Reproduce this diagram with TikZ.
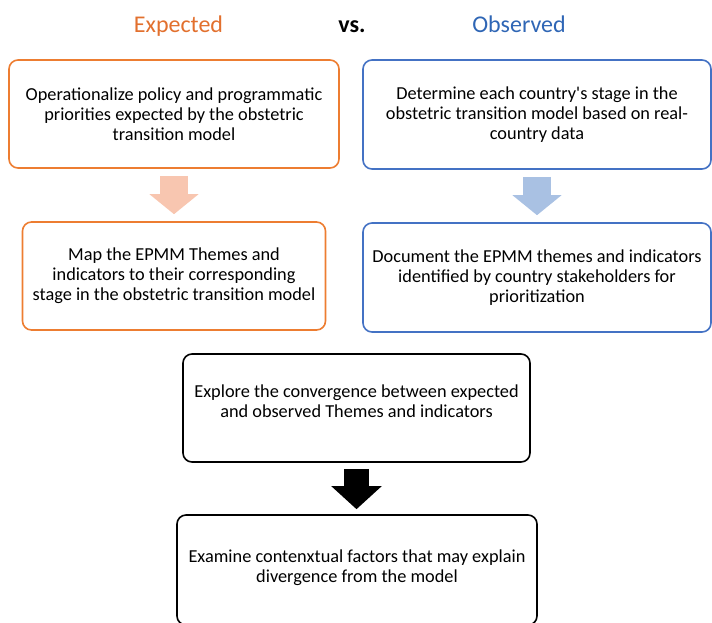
\documentclass[tikz,border=0pt]{standalone}
\usepackage{fontspec}
\setmainfont{Carlito}
\usetikzlibrary{arrows.meta}
\definecolor{expline}{HTML}{ED7D31}
\definecolor{exptext}{HTML}{E2702E}
\definecolor{expfill}{HTML}{F8C6B0}
\definecolor{obsline}{HTML}{4472C4}
\definecolor{obstext}{HTML}{2F66B5}
\definecolor{obsfill}{HTML}{A9C1E3}

\begin{document}
\begin{tikzpicture}[x=1pt, y=-1pt,
        head/.style={font=\fontsize{24}{28}\selectfont, anchor=base},
        box/.style={draw, line width=1.6pt, rounded corners=9pt, align=center,
            font=\fontsize{18.3}{20}\selectfont, inner sep=0pt},
        blockarrow/.style={line width=28pt, shorten <=7pt, shorten >=7pt}]
    \useasboundingbox (0,0) rectangle (712,622);
    \node[head, text=exptext] (hexp) at (178.5,32) {Expected};
    \node[head] (hvs) at (352,32) {\textbf{vs.}};
    \node[head, text=obstext] (hobs) at (519,32) {Observed};
    \node[box, draw=expline, minimum width=330pt, minimum height=108pt] (exp1) at (174,114)
        {Operationalize policy and programmatic\\priorities expected by the obstetric\\transition model};
    \node[box, draw=expline, minimum width=303pt, minimum height=108pt] (exp2) at (174,276)
        {Map the EPMM Themes and\\indicators to their corresponding\\stage in the obstetric transition model};
    \node[box, draw=obsline, minimum width=348pt, minimum height=109pt] (obs1) at (537,114.5)
        {Determine each country\textquotesingle s stage in the\\obstetric transition model based on real-\\country data};
    \node[box, draw=obsline, minimum width=348pt, minimum height=109pt] (obs2) at (537,277.5)
        {Document the EPMM themes and indicators\\identified by country stakeholders for\\prioritization};
    \node[box, minimum width=347pt, minimum height=108pt] (conv) at (356.5,408)
        {Explore the convergence between expected\\and observed Themes and indicators\\[-6pt]};
    \node[box, minimum width=360pt, minimum height=110pt] (ctx) at (357,570)
        {Examine contenxtual factors that may explain\\divergence from the model\\[-12pt]};
    \draw[blockarrow, expfill, -{Triangle[length=20pt, width=48pt]}]
        (exp1.south) -- (exp1.south |- exp2.north);
    \draw[blockarrow, obsfill, -{Triangle[length=20pt, width=48pt]}]
        (obs1.south) -- (obs1.south |- obs2.north);
    \draw[blockarrow, black, line width=25pt, shorten <=6pt, shorten >=5pt, -{Triangle[length=23pt, width=49pt]}]
        (conv.south) -- (conv.south |- ctx.north);
\end{tikzpicture}
\end{document}
